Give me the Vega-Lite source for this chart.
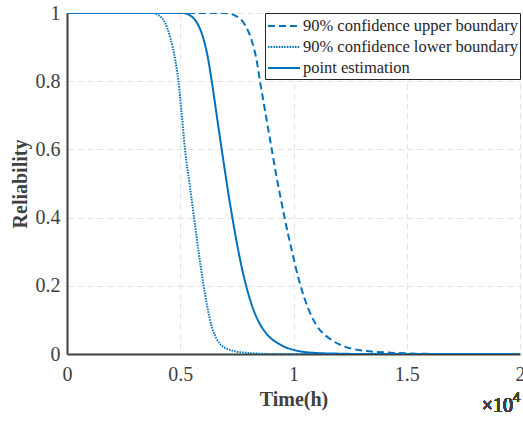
{
  "$schema": "https://vega.github.io/schema/vega-lite/v6.json",
  "width": 453,
  "height": 341,
  "autosize": "none",
  "padding": {"left": 67, "top": 13, "right": 3, "bottom": 67},
  "background": "white",
  "config": {
    "view": {"stroke": null},
    "font": "Liberation Serif",
    "axis": {
      "labelFont": "Liberation Serif",
      "titleFont": "Liberation Serif",
      "labelFontSize": 20,
      "titleFontSize": 20,
      "labelColor": "#404040",
      "titleColor": "#404040",
      "titleFontWeight": "bold",
      "domainColor": "#404040",
      "domainWidth": 2,
      "ticks": false,
      "gridColor": "#e3e3e3",
      "gridDash": [6, 4],
      "gridWidth": 1,
      "format": "~g",
      "labelFlush": false
    }
  },
  "data": {
    "values": [
      {"series": "90% confidence upper boundary", "t": 0, "r": 1},
      {"series": "90% confidence upper boundary", "t": 0.70, "r": 1},
      {"series": "90% confidence upper boundary", "t": 0.74, "r": 0.993},
      {"series": "90% confidence upper boundary", "t": 0.786, "r": 0.965},
      {"series": "90% confidence upper boundary", "t": 0.815, "r": 0.92},
      {"series": "90% confidence upper boundary", "t": 0.837, "r": 0.862},
      {"series": "90% confidence upper boundary", "t": 0.852, "r": 0.80},
      {"series": "90% confidence upper boundary", "t": 0.878, "r": 0.70},
      {"series": "90% confidence upper boundary", "t": 0.904, "r": 0.60},
      {"series": "90% confidence upper boundary", "t": 0.925, "r": 0.52},
      {"series": "90% confidence upper boundary", "t": 0.945, "r": 0.452},
      {"series": "90% confidence upper boundary", "t": 0.962, "r": 0.395},
      {"series": "90% confidence upper boundary", "t": 0.992, "r": 0.305},
      {"series": "90% confidence upper boundary", "t": 1.027, "r": 0.21},
      {"series": "90% confidence upper boundary", "t": 1.064, "r": 0.135},
      {"series": "90% confidence upper boundary", "t": 1.10, "r": 0.086},
      {"series": "90% confidence upper boundary", "t": 1.168, "r": 0.041},
      {"series": "90% confidence upper boundary", "t": 1.23, "r": 0.021},
      {"series": "90% confidence upper boundary", "t": 1.294, "r": 0.011},
      {"series": "90% confidence upper boundary", "t": 1.426, "r": 0.004},
      {"series": "90% confidence upper boundary", "t": 1.55, "r": 0.001},
      {"series": "90% confidence upper boundary", "t": 1.7, "r": 0},
      {"series": "90% confidence upper boundary", "t": 2, "r": 0},
      {"series": "90% confidence lower boundary", "t": 0, "r": 1},
      {"series": "90% confidence lower boundary", "t": 0.38, "r": 1},
      {"series": "90% confidence lower boundary", "t": 0.40, "r": 0.995},
      {"series": "90% confidence lower boundary", "t": 0.43, "r": 0.975},
      {"series": "90% confidence lower boundary", "t": 0.455, "r": 0.93},
      {"series": "90% confidence lower boundary", "t": 0.478, "r": 0.862},
      {"series": "90% confidence lower boundary", "t": 0.492, "r": 0.80},
      {"series": "90% confidence lower boundary", "t": 0.507, "r": 0.70},
      {"series": "90% confidence lower boundary", "t": 0.521, "r": 0.60},
      {"series": "90% confidence lower boundary", "t": 0.541, "r": 0.50},
      {"series": "90% confidence lower boundary", "t": 0.561, "r": 0.40},
      {"series": "90% confidence lower boundary", "t": 0.581, "r": 0.30},
      {"series": "90% confidence lower boundary", "t": 0.601, "r": 0.21},
      {"series": "90% confidence lower boundary", "t": 0.619, "r": 0.14},
      {"series": "90% confidence lower boundary", "t": 0.64, "r": 0.078},
      {"series": "90% confidence lower boundary", "t": 0.66, "r": 0.045},
      {"series": "90% confidence lower boundary", "t": 0.683, "r": 0.025},
      {"series": "90% confidence lower boundary", "t": 0.742, "r": 0.008},
      {"series": "90% confidence lower boundary", "t": 0.80, "r": 0.003},
      {"series": "90% confidence lower boundary", "t": 0.85, "r": 0.001},
      {"series": "90% confidence lower boundary", "t": 0.9, "r": 0},
      {"series": "90% confidence lower boundary", "t": 2, "r": 0},
      {"series": "point estimation", "t": 0, "r": 1},
      {"series": "point estimation", "t": 0.51, "r": 1},
      {"series": "point estimation", "t": 0.55, "r": 0.99},
      {"series": "point estimation", "t": 0.579, "r": 0.965},
      {"series": "point estimation", "t": 0.60, "r": 0.93},
      {"series": "point estimation", "t": 0.624, "r": 0.862},
      {"series": "point estimation", "t": 0.639, "r": 0.80},
      {"series": "point estimation", "t": 0.661, "r": 0.70},
      {"series": "point estimation", "t": 0.683, "r": 0.60},
      {"series": "point estimation", "t": 0.70, "r": 0.525},
      {"series": "point estimation", "t": 0.715, "r": 0.46},
      {"series": "point estimation", "t": 0.73, "r": 0.40},
      {"series": "point estimation", "t": 0.752, "r": 0.318},
      {"series": "point estimation", "t": 0.772, "r": 0.252},
      {"series": "point estimation", "t": 0.793, "r": 0.195},
      {"series": "point estimation", "t": 0.822, "r": 0.132},
      {"series": "point estimation", "t": 0.85, "r": 0.09},
      {"series": "point estimation", "t": 0.88, "r": 0.06},
      {"series": "point estimation", "t": 0.94, "r": 0.028},
      {"series": "point estimation", "t": 1.007, "r": 0.011},
      {"series": "point estimation", "t": 1.1, "r": 0.003},
      {"series": "point estimation", "t": 1.2, "r": 0.001},
      {"series": "point estimation", "t": 1.3, "r": 0},
      {"series": "point estimation", "t": 2, "r": 0}
    ]
  },
  "layer": [
    {
      "mark": {"type": "line", "interpolate": "monotone", "color": "#0072BD", "strokeWidth": 2, "clip": true},
      "encoding": {
        "x": {
          "field": "t", "type": "quantitative",
          "scale": {"domain": [0, 2], "nice": false},
          "axis": {"values": [0, 0.5, 1, 1.5, 2], "title": "Time(h)", "labelPadding": 10, "titlePadding": 5, "grid": true}
        },
        "y": {
          "field": "r", "type": "quantitative",
          "scale": {"domain": [0, 1], "nice": false},
          "axis": {"values": [0, 0.2, 0.4, 0.6, 0.8, 1], "title": "Reliability", "labelPadding": 7, "titlePadding": 5, "grid": true}
        },
        "strokeDash": {
          "field": "series", "type": "nominal",
          "scale": {
            "domain": ["90% confidence upper boundary", "90% confidence lower boundary", "point estimation"],
            "range": [[7, 4], [1.5, 1.2], [1, 0]]
          },
          "legend": {
            "title": null,
            "orient": "none",
            "legendX": 198,
            "legendY": 0,
            "symbolType": "M-1,0H2.2",
            "symbolSize": 400,
            "symbolStrokeWidth": 2,
            "symbolStrokeColor": "#0072BD",
            "symbolFillColor": "transparent",
            "labelFont": "Liberation Serif",
            "labelFontSize": 16.5,
            "labelColor": "#262626",
            "labelLimit": 400,
            "labelOffset": 14,
            "rowPadding": 1,
            "padding": 2,
            "fillColor": "white",
            "strokeColor": "#262626"
          }
        }
      }
    },
    {
      "mark": {"type": "text", "align": "right", "baseline": "middle", "dx": -7, "dy": 52, "fontSize": 20, "font": "Liberation Serif", "color": "#404040"},
      "encoding": {
        "x": {"datum": 2, "type": "quantitative"},
        "y": {"datum": 0, "type": "quantitative"},
        "text": {"value": "×10"}
      }
    },
    {
      "mark": {"type": "text", "align": "right", "baseline": "middle", "dx": 0, "dy": 44, "fontSize": 14, "font": "Liberation Serif", "color": "#404040"},
      "encoding": {
        "x": {"datum": 2, "type": "quantitative"},
        "y": {"datum": 0, "type": "quantitative"},
        "text": {"value": "4"}
      }
    }
  ]
}
